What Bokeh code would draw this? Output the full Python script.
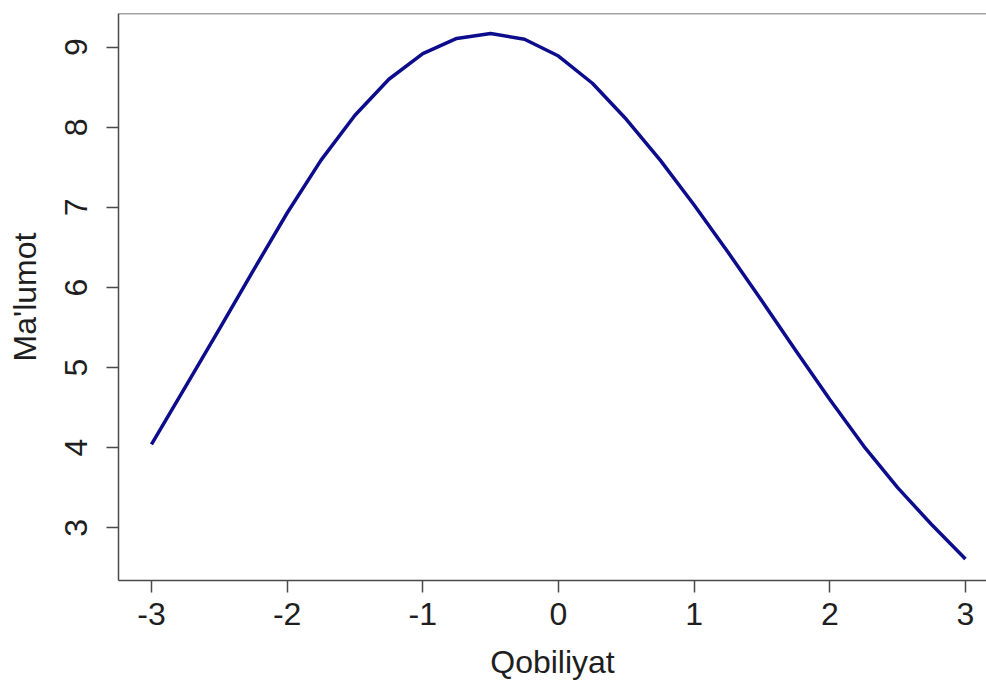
from bokeh.plotting import figure
from bokeh.models import Range1d, FixedTicker, Span
from bokeh.embed import file_html
from bokeh.resources import INLINE

# Test information curve
theta = [-3.0, -2.75, -2.5, -2.25, -2.0, -1.75, -1.5, -1.25, -1.0, -0.75, -0.5, -0.25,
         0.0, 0.25, 0.5, 0.75, 1.0, 1.25, 1.5, 1.75, 2.0, 2.25, 2.5, 2.75, 3.0]
info = [4.04, 4.76, 5.48, 6.21, 6.93, 7.59, 8.15, 8.60, 8.92, 9.11, 9.17, 9.10,
        8.89, 8.55, 8.10, 7.59, 7.03, 6.44, 5.83, 5.21, 4.60, 4.02, 3.50, 3.04, 2.61]

x_ticks = [-3, -2, -1, 0, 1, 2, 3]
x_tick_labels = ["-3", "-2", "-1", "0", "1", "2", "3"]
y_ticks = [3, 4, 5, 6, 7, 8, 9]
y_tick_labels = ["3", "4", "5", "6", "7", "8", "9"]

x_title = "Qobiliyat"
y_title = "Ma'lumot"

FONT = "Liberation Sans"
FSIZE = "32px"
AXC = "#4a4a4a"
TXC = "#1e1e1e"

p = figure(width=986, height=683,
           x_range=Range1d(-3.243, 3.155), y_range=Range1d(2.341, 9.421),
           output_backend="svg", toolbar_location=None,
           min_border_left=118, min_border_right=0, min_border_top=13, min_border_bottom=103)
p.grid.visible = False
p.outline_line_color = None
p.background_fill_color = "white"
p.border_fill_color = "white"

p.line(theta, info, line_color="#0c0c8c", line_width=3.5, line_join="round")

for ax in (p.xaxis[0], p.yaxis[0]):
    ax.axis_line_color = AXC
    ax.axis_line_width = 1.5
    ax.major_tick_line_color = AXC
    ax.major_tick_line_width = 1.5
    ax.major_tick_out = 12
    ax.major_tick_in = 0
    ax.minor_tick_line_color = None
    ax.major_label_text_font = FONT
    ax.major_label_text_font_size = FSIZE
    ax.major_label_text_color = TXC
    ax.axis_label_text_font = FONT
    ax.axis_label_text_font_size = FSIZE
    ax.axis_label_text_font_style = "normal"
    ax.axis_label_text_color = TXC

p.xaxis[0].major_label_standoff = 10
p.yaxis[0].major_label_standoff = 19

p.xaxis[0].ticker = FixedTicker(ticks=x_ticks)
p.xaxis[0].major_label_overrides = {t: s for t, s in zip(x_ticks, x_tick_labels)}
p.yaxis[0].ticker = FixedTicker(ticks=y_ticks)
p.yaxis[0].major_label_overrides = {t: s for t, s in zip(y_ticks, y_tick_labels)}
p.yaxis[0].major_label_orientation = "vertical"

p.yaxis[0].axis_label = y_title
p.yaxis[0].axis_label_standoff = 20
p.xaxis[0].axis_label = x_title
p.xaxis[0].axis_label_standoff = 16

# top border of the box
p.add_layout(Span(location=9.421, dimension="width", line_color=AXC, line_width=1.5))

open("out.html", "w").write(file_html(p, INLINE))
